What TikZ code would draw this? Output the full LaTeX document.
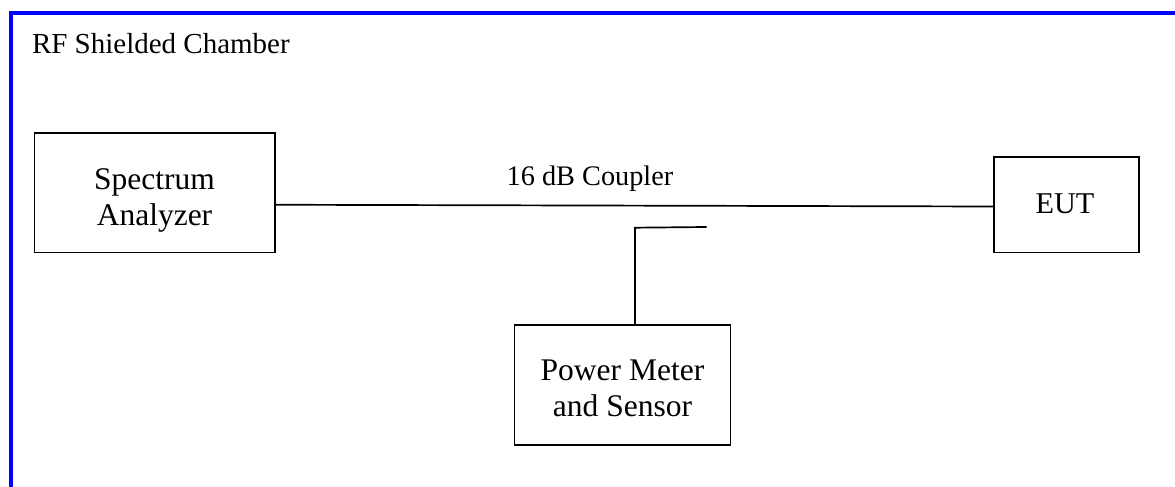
\documentclass[tikz,border=0pt]{standalone}
\usepackage{fontspec}
\setmainfont{Liberation Serif}
\begin{document}
\begin{tikzpicture}[x=1pt,y=-1pt,
  box/.style={draw=black,line width=1.7pt,rectangle,inner sep=0pt,outer sep=0pt},
  wire/.style={draw=black,line width=1.7pt},
  lbl/.style={inner sep=0pt,outer sep=0pt,font=\fontsize{31.5}{36}\selectfont},
  frame/.style={draw=blue,line width=4pt}]
\useasboundingbox (0,0) rectangle (1175,487);
% chamber frame
\coordinate (fbl) at (11,500);
\coordinate (ftl) at (11,13);
\coordinate (ftr) at (1190,13);
\draw[frame] (fbl) -- (ftl) -- (ftr);
\node[lbl,anchor=base west,font=\fontsize{29}{34}\selectfont] (title) at (32,53.3) {RF Shielded Chamber};
% boxes
\node[box,minimum width=240.5,minimum height=119.5] (sa) at (154.75,192.75) {};
\node[lbl,anchor=base] (sa1) at (154.5,189.3) {Spectrum};
\node[lbl,anchor=base] (sa2) at (154.5,225.7) {Analyzer};
\node[box,minimum width=145,minimum height=95.5] (eut) at (1066.5,204.75) {};
\node[lbl,anchor=base,font=\fontsize{30.2}{36}\selectfont] (eutt) at (1065,213.3) {EUT};
\node[box,minimum width=216,minimum height=120] (pm) at (622.5,385) {};
\node[lbl,anchor=base] (pm1) at (622.5,380) {Power Meter};
\node[lbl,anchor=base] (pm2) at (622.5,416.7) {and Sensor};
% coupler
\node[lbl,anchor=base,font=\fontsize{28.3}{34}\selectfont] (cpl) at (590,185) {16 dB Coupler};
\draw[wire] ([yshift=-12pt]sa.east) -- ([yshift=-1.75pt]eut.west);
\coordinate (bend) at (635,227.7);
\coordinate (stub) at (706.5,227);
\draw[wire] ([xshift=12.5pt]pm.north) -- (bend) -- (stub);
\end{tikzpicture}
\end{document}
